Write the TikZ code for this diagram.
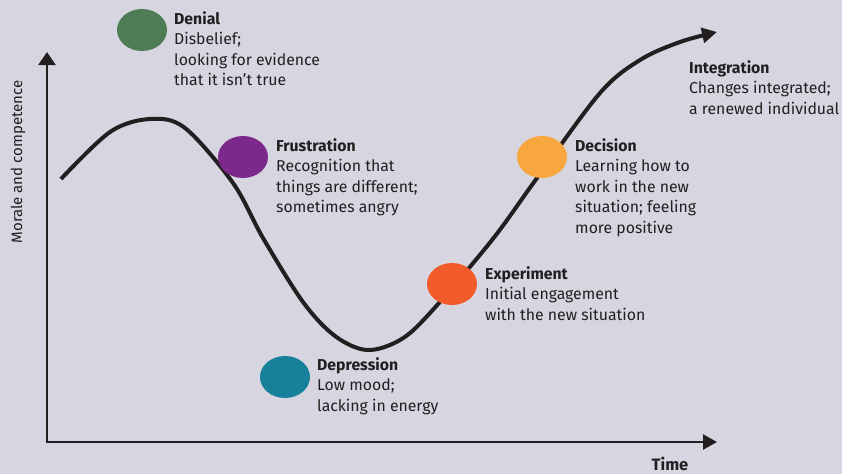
\documentclass[tikz,border=0pt]{standalone}
\usepackage{fontspec}
\setmainfont{Fira Sans}
\usetikzlibrary{arrows.meta}

\definecolor{bg}{HTML}{D6D5E0}
\definecolor{ink}{HTML}{231F20}
\definecolor{denialc}{HTML}{4E7D55}
\definecolor{frustc}{HTML}{7B2A8B}
\definecolor{deprc}{HTML}{17819C}
\definecolor{expc}{HTML}{F15A29}
\definecolor{decc}{HTML}{F8A63E}

\begin{document}
\begin{tikzpicture}[x=1pt, y=-1pt,
    every node/.style={font=\fontsize{15.8}{20.5}\selectfont, text=ink, inner sep=0pt},
    stage/.style={anchor=north west, align=left},
    axis/.style={line width=2.5pt, draw=ink, {Triangle[length=13pt, width=17pt]}-{Triangle[length=14pt, width=15pt]}}]
    % Background
    \fill[bg] (0,0) rectangle (842,474);

    % Axes
    \coordinate (ytip) at (47,52);
    \coordinate (origin) at (47,442);
    \coordinate (xtip) at (717,442);
    \draw[axis] (ytip) -- (origin) -- (xtip);
    \node[rotate=90, font=\fontsize{15}{18}\selectfont] (ylabel) at (18,162) {Morale and competence};
    \node[font=\fontsize{16.5}{20}\selectfont\bfseries] (xlabel) at (670,464) {Time};

    % Change curve
    \draw[line width=4pt, draw=ink, -{Triangle[length=15pt, width=15pt]}]
        plot[smooth, tension=0.55] coordinates {(61,179) (110,132) (150,119) (185,128)
        (233,183) (263,238) (303,302) (335,336) (367,350) (400,340) (430,313)
        (492,240) (537,178) (600,93) (640,60) (680,42) (717,32)};

    % Stage markers
    \fill[denialc] (142,30) ellipse (25 and 21);
    \fill[frustc] (243,157) ellipse (25 and 21);
    \fill[deprc] (285,377) ellipse (25 and 21);
    \fill[expc] (452,284) ellipse (25 and 21);
    \fill[decc] (542,157) ellipse (25 and 21);

    % Stage texts
    \node[stage] (denial) at (174,11) {\textbf{Denial}\\Disbelief;\\looking for evidence\\that it isn’t true};
    \node[stage] (frustration) at (276,138) {\textbf{Frustration}\\Recognition that\\things are different;\\sometimes angry};
    \node[stage] (depression) at (317,357) {\textbf{Depression}\\Low mood;\\lacking in energy};
    \node[stage] (experiment) at (485,266) {\textbf{Experiment}\\Initial engagement\\with the new situation};
    \node[stage] (decision) at (575,138) {\textbf{Decision}\\Learning how to\\work in the new\\situation; feeling\\more positive};
    \node[stage] (integration) at (689,60) {\textbf{Integration}\\Changes integrated;\\a renewed individual};
\end{tikzpicture}
\end{document}
